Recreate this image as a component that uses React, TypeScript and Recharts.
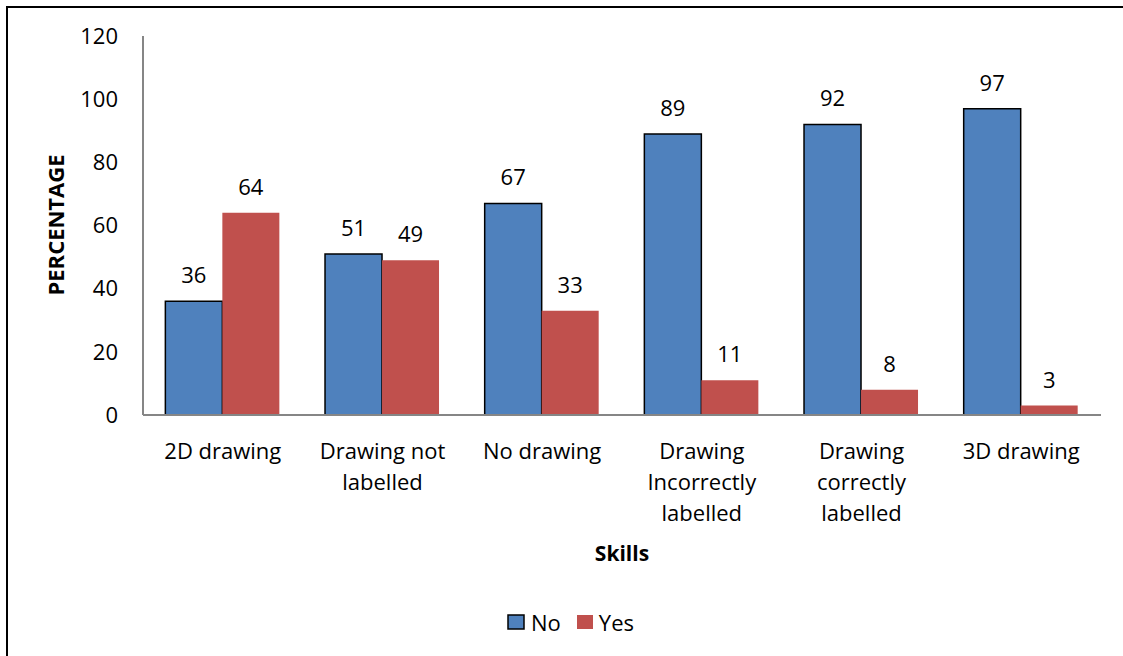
import React from 'react';
import { BarChart, Bar, XAxis, YAxis, LabelList, Legend } from 'recharts';

const categories = ['2D drawing', 'Drawing not labelled', 'No drawing', 'Drawing Incorrectly labelled', 'Drawing correctly labelled', '3D drawing'];
const tickLines: string[][] = [
  ['2D drawing'],
  ['Drawing not', 'labelled'],
  ['No drawing'],
  ['Drawing', 'Incorrectly', 'labelled'],
  ['Drawing', 'correctly', 'labelled'],
  ['3D drawing'],
];
const noValues = [36, 51, 67, 89, 92, 97];
const yesValues = [64, 49, 33, 11, 8, 3];
const yTicks = [0, 20, 40, 60, 80, 100, 120];

const data = categories.map((c, i) => ({ name: c, No: noValues[i], Yes: yesValues[i], idx: i }));

const FONT = '"Open Sans", "Noto Sans", sans-serif';
const BLUE = '#4F81BD';
const RED = '#C0504D';
const AXIS = '#868686';

const XTick = (props: any) => {
  const { x, y, index } = props;
  const lines = tickLines[index] || [];
  return (
    <text x={x} y={y} textAnchor="middle" fontFamily={FONT} fontSize={22} fill="#000">
      {lines.map((l, i) => (
        <tspan key={i} x={x} dy={i === 0 ? 36 : 31}>{l}</tspan>
      ))}
    </text>
  );
};

const YLabel = () => (
  <text
    x={64}
    y={225}
    transform="rotate(-90 64 225)"
    textAnchor="middle"
    fontFamily={FONT}
    fontSize={22}
    fontWeight="bold"
    fill="#000"
  >
    PERCENTAGE
  </text>
);

const LegendContent = () => (
  <div style={{ display: 'flex', justifyContent: 'center', alignItems: 'center', fontFamily: FONT, fontSize: 22, color: '#000', paddingLeft: 18 }}>
    <svg width={18} height={16} style={{ marginRight: 6 }}>
      <rect x={1} y={1} width={16} height={14} fill={BLUE} stroke="#000" strokeWidth={1.5} />
    </svg>
    <span style={{ marginRight: 16 }}>No</span>
    <svg width={16} height={16} style={{ marginRight: 6 }}>
      <rect x={0} y={1} width={16} height={14} fill={RED} />
    </svg>
    <span>Yes</span>
  </div>
);

export default function App() {
  return (
    <div style={{ position: 'absolute', left: 0, top: 0, width: 1123, height: 656, background: '#fff', overflow: 'hidden' }}>
      <div style={{ position: 'absolute', left: 6, top: 6, width: 1117, height: 2, background: '#000' }} />
      <div style={{ position: 'absolute', left: 6, top: 6, width: 2, height: 650, background: '#000' }} />
      <BarChart
        width={1123}
        height={656}
        data={data}
        margin={{ top: 36, right: 22, bottom: 0, left: 0 }}
        barCategoryGap="14%"
        barGap={0}
      >
        <XAxis
          dataKey="name"
          height={241}
          tickLine={false}
          axisLine={{ stroke: AXIS, strokeWidth: 2 }}
          tick={<XTick />}
          interval={0}
          label={{ value: 'Skills', position: 'insideTop', offset: 131, fontFamily: FONT, fontSize: 21, fontWeight: 'bold', fill: '#000' }}
        />
        <YAxis
          width={143}
          domain={[0, 120]}
          ticks={yTicks}
          tickLine={false}
          tickSize={0}
          tickMargin={25}
          axisLine={{ stroke: AXIS, strokeWidth: 2 }}
          tick={{ fontFamily: FONT, fontSize: 22, fill: '#000' }}
          label={<YLabel />}
        />
        <Legend
          layout="horizontal"
          verticalAlign="middle"
          align="center"
          content={<LegendContent />}
          wrapperStyle={{ top: 607, left: 0, width: 1123 }}
        />
        <Bar dataKey="No" fill={BLUE} stroke="#000" strokeWidth={1.5} isAnimationActive={false}>
          <LabelList dataKey="No" position="top" offset={18} fontFamily={FONT} fontSize={22} fill="#000" />
        </Bar>
        <Bar dataKey="Yes" fill={RED} isAnimationActive={false}>
          <LabelList dataKey="Yes" position="top" offset={18} fontFamily={FONT} fontSize={22} fill="#000" />
        </Bar>
      </BarChart>
    </div>
  );
}
